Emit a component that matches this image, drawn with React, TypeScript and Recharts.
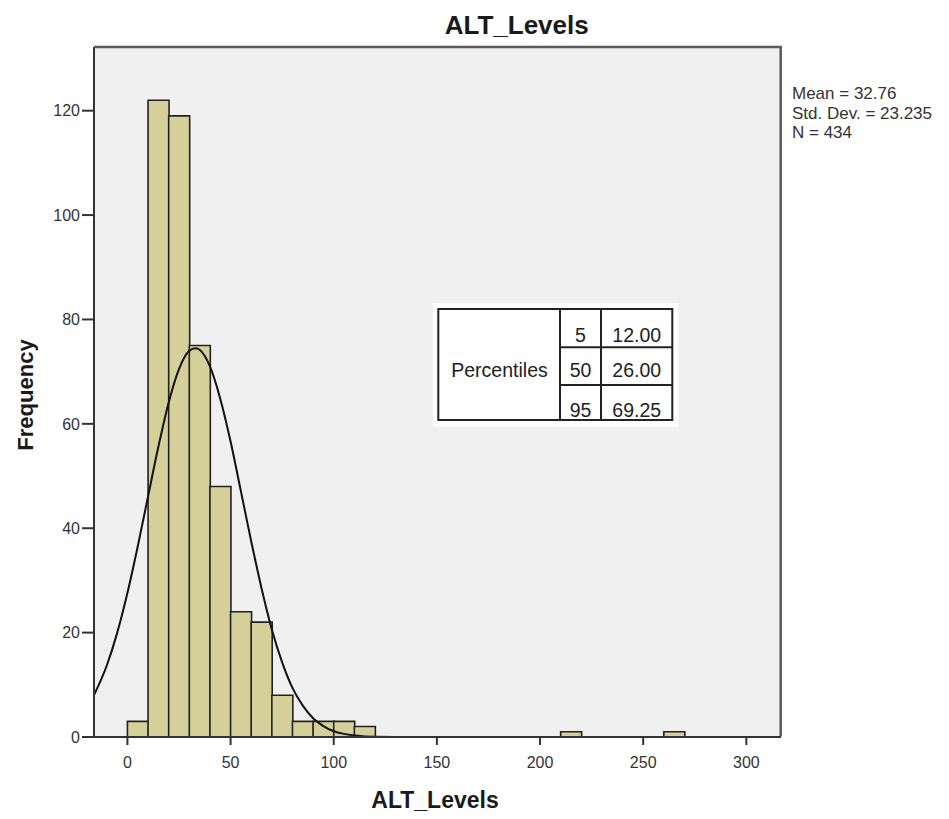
import React from 'react';
import { ComposedChart, Bar, Line, XAxis, YAxis, CartesianGrid } from 'recharts';

// histogram bins (lower edge, width 10)
const binStarts = [0, 10, 20, 30, 40, 50, 60, 70, 80, 90, 100, 110, 210, 260];
const binCounts = [3, 122, 119, 75, 48, 24, 22, 8, 3, 3, 3, 2, 1, 1];
const binWidth = 10;

// normal curve
const curveX = [-16, -10, -5, 0, 5, 10, 15, 20, 25, 30, 33, 35, 40, 45, 50, 55, 60, 65, 70, 75, 80, 85, 90, 95, 100, 105, 110, 115, 120, 130];
const curveY = [8.2, 13.7, 19.9, 27.6, 36.5, 46.1, 55.6, 64.1, 70.5, 74.0, 74.5, 74.2, 71.0, 64.8, 56.6, 47.1, 37.5, 28.5, 20.6, 14.3, 9.4, 6.0, 3.6, 2.1, 1.1, 0.6, 0.3, 0.1, 0.06, 0];

const xTicks = [0, 50, 100, 150, 200, 250, 300];
const yTicks = [0, 20, 40, 60, 80, 100, 120];
const xDomain: [number, number] = [-16.2, 316.8];
const yDomain: [number, number] = [0, 132.2];

const pctLevels = ['5', '50', '95'];
const pctValues = ['12.00', '26.00', '69.25'];
const statLines = ['Mean = 32.76', 'Std. Dev. = 23.235', 'N = 434'];

const bins = binStarts.map((s, i) => ({ mid: s + binWidth / 2, count: binCounts[i] }));
const curve = curveX.map((x, i) => ({ x, y: curveY[i] }));

const FONT = '"Liberation Sans", Arial, sans-serif';
const tickStyle = { fontSize: 16, fill: '#333', fontFamily: FONT };

export default function App() {
  const rowBase = [341.7, 377.3, 416.7];
  return (
    <div style={{ position: 'relative', width: 949, height: 819, background: '#fff' }}>
      <style>{'body{margin:0}'}</style>
      <ComposedChart
        width={949}
        height={819}
        data={bins}
        margin={{ top: 47, right: 168, bottom: 22, left: 34 }}
        barCategoryGap={0}
        barGap={0}
      >
        <CartesianGrid xAxisId="main" horizontal={false} vertical={false} fill="#f0f0f0" />
        <XAxis xAxisId="bins" dataKey="mid" type="number" domain={xDomain} allowDataOverflow hide height={0} />
        <XAxis
          xAxisId="main"
          dataKey="x"
          type="number"
          domain={xDomain}
          allowDataOverflow
          ticks={xTicks}
          height={60}
          tickSize={8}
          tickMargin={12}
          tick={tickStyle}
          tickLine={{ stroke: '#333', strokeWidth: 2 }}
          axisLine={{ stroke: '#333', strokeWidth: 2 }}
        />
        <YAxis
          type="number"
          domain={yDomain}
          allowDataOverflow
          ticks={yTicks}
          width={60}
          tickSize={12}
          tickMargin={2}
          tick={tickStyle}
          tickLine={{ stroke: '#333', strokeWidth: 2 }}
          axisLine={{ stroke: '#333', strokeWidth: 2 }}
        />
        <Bar
          xAxisId="bins"
          dataKey="count"
          fill="#d5d099"
          stroke="#222"
          strokeWidth={1.6}
          isAnimationActive={false}
        />
        <Line
          xAxisId="main"
          data={curve}
          dataKey="y"
          type="monotone"
          stroke="#111"
          strokeWidth={2}
          dot={false}
          activeDot={false}
          isAnimationActive={false}
        />
      </ComposedChart>
      <svg
        width={949}
        height={819}
        style={{ position: 'absolute', left: 0, top: 0, pointerEvents: 'none' }}
        fontFamily={FONT}
      >
        <polyline points="94,47 780.7,47 780.7,736.5" fill="none" stroke="#5a5a5a" strokeWidth={2.5} />
        <text x={516.7} y={33.5} textAnchor="middle" fontSize={26} fontWeight="bold" fill="#1a1a1a">
          ALT_Levels
        </text>
        <text x={435} y={808} textAnchor="middle" fontSize={23} fontWeight="bold" fill="#1a1a1a">
          ALT_Levels
        </text>
        <text
          x={33}
          y={395}
          transform="rotate(-90 33 395)"
          textAnchor="middle"
          fontSize={22}
          fontWeight="bold"
          fill="#1a1a1a"
        >
          Frequency
        </text>
        {statLines.map((s, i) => (
          <text key={s} x={792} y={99.3 + i * 19.5} fontSize={17} fill="#333">
            {s}
          </text>
        ))}
        <rect x={432.7} y={303.3} width={245.6} height={123.4} fill="#fff" />
        <rect x={438.3} y={309} width={234} height={111} fill="none" stroke="#222" strokeWidth={2} />
        <line x1={560} y1={309} x2={560} y2={420} stroke="#222" strokeWidth={2} />
        <line x1={601} y1={309} x2={601} y2={420} stroke="#222" strokeWidth={2} />
        <line x1={560} y1={347.3} x2={672.3} y2={347.3} stroke="#222" strokeWidth={2} />
        <line x1={560} y1={385} x2={672.3} y2={385} stroke="#222" strokeWidth={2} />
        <text x={499.5} y={377.3} textAnchor="middle" fontSize={19.5} fill="#222">
          Percentiles
        </text>
        {pctLevels.map((p, i) => (
          <text key={p} x={580.5} y={rowBase[i]} textAnchor="middle" fontSize={19.5} fill="#222">
            {p}
          </text>
        ))}
        {pctValues.map((v, i) => (
          <text key={v} x={636.7} y={rowBase[i]} textAnchor="middle" fontSize={19.5} fill="#222">
            {v}
          </text>
        ))}
      </svg>
    </div>
  );
}
